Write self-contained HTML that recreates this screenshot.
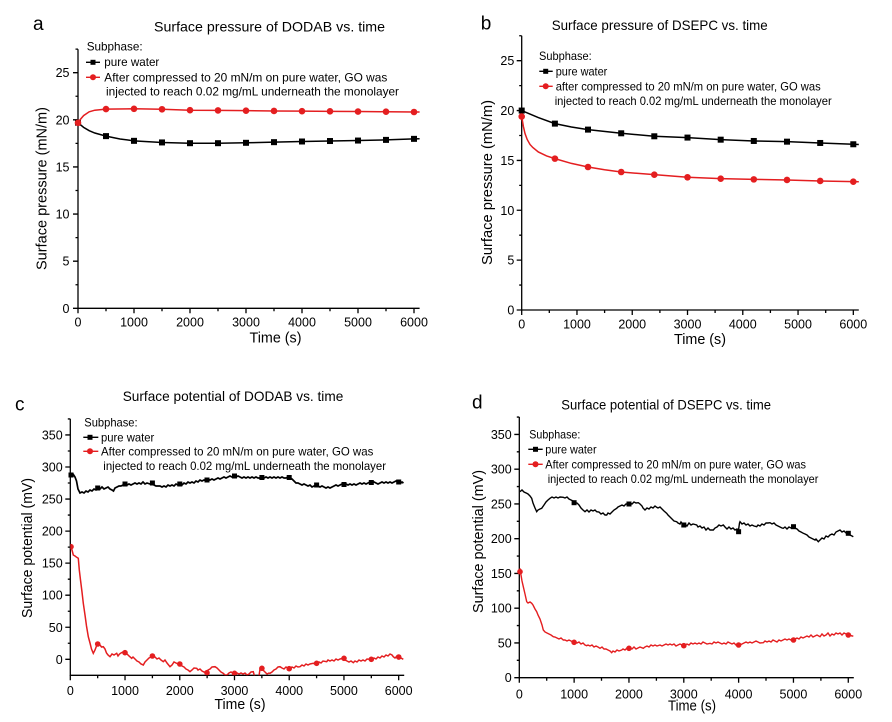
<!DOCTYPE html>
<html><head><meta charset="utf-8"><style>
html,body{margin:0;padding:0;background:#fff;}
svg{display:block;}
text{font-family:"Liberation Sans",Arial,sans-serif;fill:#000;}
.tk{font-size:12.5px;}
.ax{font-size:14.5px;}
.tt{font-size:14px;}
.lg{font-size:12px;}
.pl{font-size:19px;}
</style></head><body>
<svg width="892" height="722" viewBox="0 0 892 722" xmlns="http://www.w3.org/2000/svg">
<defs>
<clipPath id="cc"><rect x="70.3" y="410" width="340" height="265.3"/></clipPath>
</defs>

<!-- ============ PANEL A ============ -->
<text class="pl" x="33" y="30">a</text>
<text class="tt" x="154" y="31.5" textLength="231" lengthAdjust="spacingAndGlyphs">Surface pressure of DODAB vs. time</text>
<g stroke="#000" stroke-width="1.3" fill="none">
<path d="M78 49.2V308.3H419.6"/>
<path d="M73 308.3H78M73 261.18H78M73 214.06H78M73 166.94H78M73 119.82H78M73 72.7H78"/>
<path d="M75.5 284.74H78M75.5 237.62H78M75.5 190.5H78M75.5 143.38H78M75.5 96.26H78M75.5 49.14H78"/>
<path d="M78 308.3V313.3M134 308.3V313.3M190 308.3V313.3M246 308.3V313.3M302 308.3V313.3M358 308.3V313.3M414 308.3V313.3"/>
<path d="M106 308.3V311.3M162 308.3V311.3M218 308.3V311.3M274 308.3V311.3M330 308.3V311.3M386 308.3V311.3"/>
</g>
<g class="tk" text-anchor="end">
<text x="69.5" y="312.8">0</text><text x="69.5" y="265.7">5</text><text x="69.5" y="218.6">10</text>
<text x="69.5" y="171.4">15</text><text x="69.5" y="124.3">20</text><text x="69.5" y="77.2">25</text>
</g>
<g class="tk" text-anchor="middle">
<text x="78" y="326.7">0</text><text x="134" y="326.7">1000</text><text x="190" y="326.7">2000</text>
<text x="246" y="326.7">3000</text><text x="302" y="326.7">4000</text><text x="358" y="326.7">5000</text>
<text x="414" y="326.7">6000</text>
</g>
<text class="ax" text-anchor="middle" x="275.5" y="342.5" textLength="52" lengthAdjust="spacingAndGlyphs">Time (s)</text>
<text class="ax" text-anchor="middle" transform="translate(46.5,188.5) rotate(-90)" textLength="163" lengthAdjust="spacingAndGlyphs">Surface pressure (mN/m)</text>
<!-- legend a -->
<text class="lg" x="86.7" y="50.5" textLength="56" lengthAdjust="spacingAndGlyphs">Subphase:</text>
<path d="M86 62.3H100" stroke="#000" stroke-width="1.4"/><rect x="90.5" y="59.8" width="5" height="5" fill="#000"/>
<text class="lg" x="104.3" y="66" textLength="55" lengthAdjust="spacingAndGlyphs">pure water</text>
<path d="M86 77.3H100" stroke="#e41e20" stroke-width="1.4"/><circle cx="93" cy="77.3" r="3" fill="#e41e20"/>
<text class="lg" x="104.3" y="81.5" textLength="283" lengthAdjust="spacingAndGlyphs">After compressed to 20 mN/m on pure water, GO was</text>
<text class="lg" x="106" y="95.5" textLength="293" lengthAdjust="spacingAndGlyphs">injected to reach 0.02 mg/mL underneath the monolayer</text>
<!-- data a -->
<path d="M78 122.65L83.6 127.36L89.2 130.66L94.8 133.01L106 136.12L120 138.95L134 140.84L162 142.44L190 143.19L218 143.19L246 142.81L274 142.16L302 141.5L330 141.02L358 140.55L386 139.89L414 138.86L419.6 138.7" stroke="#000" stroke-width="1.5" fill="none"/>
<g fill="#000">
<rect x="75" y="119.65" width="6" height="6"/><rect x="103" y="133.12" width="6" height="6"/><rect x="131" y="137.84" width="6" height="6"/>
<rect x="159" y="139.44" width="6" height="6"/><rect x="187" y="140.19" width="6" height="6"/><rect x="215" y="140.19" width="6" height="6"/>
<rect x="243" y="139.81" width="6" height="6"/><rect x="271" y="139.16" width="6" height="6"/><rect x="299" y="138.5" width="6" height="6"/>
<rect x="327" y="138.02" width="6" height="6"/><rect x="355" y="137.55" width="6" height="6"/><rect x="383" y="136.89" width="6" height="6"/>
<rect x="411" y="135.86" width="6" height="6"/>
</g>
<path d="M78 122.84L80.8 118.88L83.6 115.58L89.2 111.81L94.8 110.21L106 109.08L134 108.79L162 109.27L190 110.21L218 110.4L246 110.68L274 110.96L302 111.15L330 111.34L358 111.53L386 111.72L414 112L419.6 112.05" stroke="#e41e20" stroke-width="1.5" fill="none"/>
<g fill="#e41e20">
<circle cx="78" cy="122.84" r="3.3"/><circle cx="106" cy="109.08" r="3.3"/><circle cx="134" cy="108.79" r="3.3"/>
<circle cx="162" cy="109.27" r="3.3"/><circle cx="190" cy="110.21" r="3.3"/><circle cx="218" cy="110.4" r="3.3"/>
<circle cx="246" cy="110.68" r="3.3"/><circle cx="274" cy="110.96" r="3.3"/><circle cx="302" cy="111.15" r="3.3"/>
<circle cx="330" cy="111.34" r="3.3"/><circle cx="358" cy="111.53" r="3.3"/><circle cx="386" cy="111.72" r="3.3"/>
<circle cx="414" cy="112" r="3.3"/>
</g>

<!-- ============ PANEL B ============ -->
<text class="pl" x="480.7" y="29.3">b</text>
<text class="tt" x="551.7" y="30" textLength="216" lengthAdjust="spacingAndGlyphs">Surface pressure of DSEPC vs. time</text>
<g stroke="#000" stroke-width="1.3" fill="none">
<path d="M521.7 35.8V310H858.8"/>
<path d="M516.7 310H521.7M516.7 260.14H521.7M516.7 210.28H521.7M516.7 160.42H521.7M516.7 110.56H521.7M516.7 60.7H521.7"/>
<path d="M519.2 285.07H521.7M519.2 235.21H521.7M519.2 185.35H521.7M519.2 135.49H521.7M519.2 85.63H521.7M519.2 35.77H521.7"/>
<path d="M521.7 310V315M576.97 310V315M632.24 310V315M687.51 310V315M742.78 310V315M798.05 310V315M853.32 310V315"/>
<path d="M549.3 310V313M604.6 310V313M659.9 310V313M715.1 310V313M770.4 310V313M825.7 310V313"/>
</g>
<g class="tk" text-anchor="end">
<text x="514.3" y="314.5">0</text><text x="514.3" y="264.6">5</text><text x="514.3" y="214.8">10</text>
<text x="514.3" y="164.9">15</text><text x="514.3" y="115.1">20</text><text x="514.3" y="65.2">25</text>
</g>
<g class="tk" text-anchor="middle">
<text x="521.7" y="328.5">0</text><text x="576.97" y="328.5">1000</text><text x="632.24" y="328.5">2000</text>
<text x="687.51" y="328.5">3000</text><text x="742.78" y="328.5">4000</text><text x="798.05" y="328.5">5000</text>
<text x="853.32" y="328.5">6000</text>
</g>
<text class="ax" text-anchor="middle" x="700" y="344" textLength="52" lengthAdjust="spacingAndGlyphs">Time (s)</text>
<text class="ax" text-anchor="middle" transform="translate(492,182.5) rotate(-90)" textLength="165" lengthAdjust="spacingAndGlyphs">Surface pressure (mN/m)</text>
<!-- legend b -->
<text class="lg" x="539" y="60" textLength="52.7" lengthAdjust="spacingAndGlyphs">Subphase:</text>
<path d="M539.3 71.3H552.7" stroke="#000" stroke-width="1.4"/><rect x="543.2" y="68.8" width="5" height="5" fill="#000"/>
<text class="lg" x="555.7" y="75.5" textLength="51.6" lengthAdjust="spacingAndGlyphs">pure water</text>
<path d="M539.3 86.3H552.7" stroke="#e41e20" stroke-width="1.4"/><circle cx="545.7" cy="86.3" r="3" fill="#e41e20"/>
<text class="lg" x="555.7" y="90.5" textLength="265" lengthAdjust="spacingAndGlyphs">after compressed to 20 mN/m on pure water, GO was</text>
<text class="lg" x="554.7" y="105" textLength="277" lengthAdjust="spacingAndGlyphs">injected to reach 0.02 mg/mL underneath the monolayer</text>
<!-- data b -->
<path d="M521.7 110.56L538.3 117.54L554.9 123.62L571.4 127.01L588 129.61L621.2 133.3L654.3 136.29L687.5 137.58L720.7 139.68L753.8 140.97L787 141.67L820.2 142.97L853.3 144.27L858.8 144.47" stroke="#000" stroke-width="1.5" fill="none"/>
<g fill="#000">
<rect x="518.7" y="107.56" width="6" height="6"/><rect x="551.9" y="120.62" width="6" height="6"/><rect x="585" y="126.61" width="6" height="6"/>
<rect x="618.2" y="130.3" width="6" height="6"/><rect x="651.3" y="133.29" width="6" height="6"/><rect x="684.5" y="134.58" width="6" height="6"/>
<rect x="717.7" y="136.68" width="6" height="6"/><rect x="750.8" y="137.97" width="6" height="6"/><rect x="784" y="138.67" width="6" height="6"/>
<rect x="817.2" y="139.97" width="6" height="6"/><rect x="850.3" y="141.27" width="6" height="6"/>
</g>
<path d="M521.7 116.54L523.4 126.52L525 133.5L527.2 139.48L530 144.46L532.8 147.46L538.3 151.94L546.6 155.93L554.9 158.63L571.4 163.41L588 167L604.6 169.79L621.2 171.99L654.3 174.68L687.5 177.27L720.7 178.67L753.8 179.37L787 179.96L820.2 180.96L853.3 181.66L858.8 181.8" stroke="#e41e20" stroke-width="1.5" fill="none"/>
<g fill="#e41e20">
<circle cx="521.7" cy="116.54" r="3.3"/><circle cx="554.9" cy="158.63" r="3.3"/><circle cx="588" cy="167" r="3.3"/>
<circle cx="621.2" cy="171.99" r="3.3"/><circle cx="654.3" cy="174.68" r="3.3"/><circle cx="687.5" cy="177.27" r="3.3"/>
<circle cx="720.7" cy="178.67" r="3.3"/><circle cx="753.8" cy="179.37" r="3.3"/><circle cx="787" cy="179.96" r="3.3"/>
<circle cx="820.2" cy="180.96" r="3.3"/><circle cx="853.3" cy="181.66" r="3.3"/>
</g>

<!-- ============ PANEL C ============ -->
<text class="pl" x="15" y="410.7">c</text>
<text class="tt" x="122.7" y="401" textLength="220.6" lengthAdjust="spacingAndGlyphs">Surface potential of DODAB vs. time</text>
<g stroke="#000" stroke-width="1.3" fill="none">
<path d="M70.3 418.9V675.3H404.2"/>
<path d="M65.3 659.3H70.3M65.3 627.25H70.3M65.3 595.2H70.3M65.3 563.15H70.3M65.3 531.1H70.3M65.3 499.05H70.3M65.3 467H70.3M65.3 434.95H70.3"/>
<path d="M67.8 643.28H70.3M67.8 611.23H70.3M67.8 579.18H70.3M67.8 547.13H70.3M67.8 515.08H70.3M67.8 483.03H70.3M67.8 450.98H70.3M67.8 418.93H70.3"/>
<path d="M70.3 675.3V680.3M125.03 675.3V680.3M179.76 675.3V680.3M234.49 675.3V680.3M289.22 675.3V680.3M343.95 675.3V680.3M398.68 675.3V680.3"/>
<path d="M97.67 675.3V678.3M152.4 675.3V678.3M207.13 675.3V678.3M261.86 675.3V678.3M316.59 675.3V678.3M371.32 675.3V678.3"/>
</g>
<g class="tk" text-anchor="end">
<text x="62.7" y="663.8">0</text><text x="62.7" y="631.75">50</text><text x="62.7" y="599.7">100</text>
<text x="62.7" y="567.65">150</text><text x="62.7" y="535.6">200</text><text x="62.7" y="503.55">250</text>
<text x="62.7" y="471.5">300</text><text x="62.7" y="439.45">350</text>
</g>
<g class="tk" text-anchor="middle">
<text x="70.3" y="695">0</text><text x="125.03" y="695">1000</text><text x="179.76" y="695">2000</text>
<text x="234.49" y="695">3000</text><text x="289.22" y="695">4000</text><text x="343.95" y="695">5000</text>
<text x="398.68" y="695">6000</text>
</g>
<text class="ax" text-anchor="middle" x="240" y="709" textLength="51" lengthAdjust="spacingAndGlyphs">Time (s)</text>
<text class="ax" text-anchor="middle" transform="translate(32,548) rotate(-90)" textLength="140" lengthAdjust="spacingAndGlyphs">Surface potential (mV)</text>
<!-- legend c -->
<text class="lg" x="84.3" y="426.5" textLength="53.3" lengthAdjust="spacingAndGlyphs">Subphase:</text>
<path d="M83.3 437.3H98.3" stroke="#000" stroke-width="1.4"/><rect x="87.5" y="434.8" width="5" height="5" fill="#000"/>
<text class="lg" x="101" y="441.5" textLength="53.3" lengthAdjust="spacingAndGlyphs">pure water</text>
<path d="M83.3 451.3H98.3" stroke="#e41e20" stroke-width="1.4"/><circle cx="90" cy="451.3" r="3" fill="#e41e20"/>
<text class="lg" x="101" y="455.5" textLength="272.3" lengthAdjust="spacingAndGlyphs">After compressed to 20 mN/m on pure water, GO was</text>
<text class="lg" x="103.3" y="470" textLength="282.7" lengthAdjust="spacingAndGlyphs">injected to reach 0.02 mg/mL underneath the monolayer</text>
<!-- data c -->
<polyline fill="none" stroke="#000" stroke-width="1.7" points="71,475 73,474 75,477 76.5,481 78,489 80,493 82,492 84,493 86,491 88,492 90,490 92,491 94,489 96,490 98,488 100,489 102,487 104,489 106,488 108,487 110,489 112,490 113.5,491 115,488 117,487 119,486 121,486 123,485 125,484 127,485 129,484 131,485 133,484 135,483 137,484 139,483 141,484 143,482 145,484 147,483 150,484 152,483 154,485 156,486 158,486 160,486 162,487 164,486 166,487 168,485 170,486 172,485 174,486 176,484 178,485 180,484 182,485 184,483 186,484 188,482 190,483 192,482 194,483 196,481 198,482 200,480 202,481 204,480 206,481 208,479 210,480 212,479 214,480 216,479 218,478 220,479 222,478 224,477 226,478 228,477 230,476 232,477 234,476 236,477 238,476 240,477 242,478 244,477 246,478 248,477 250,478 252,477 254,478 256,477 258,478 260,478 262,477 264,478 266,477 268,478 270,477 272,478 274,477 276,478 278,477 280,478 282,477 284,478 286,478 288,477 290,478 292,479 294,481 296,483 298,483 300,484 302,485 304,484 306,485 308,486 310,485 312,487 314,486 316,485 318,486 320,487 322,486 324,487 326,488 328,487 330,488 332,487 334,486 336,485 338,486 340,485 342,484 344,485 346,484 348,485 350,484 352,485 354,484 356,485 358,484 360,483 362,484 364,483 366,484 368,483 370,482 372,483 374,482 376,483 378,484 380,483 382,482 384,483 386,482 388,483 390,482 392,483 394,482 396,481 398,482 400,483 402,482 403.5,483"/>
<g fill="#000">
<rect x="68.5" y="472.5" width="5" height="5"/><rect x="95.2" y="485.5" width="5" height="5"/><rect x="122.5" y="481.5" width="5" height="5"/>
<rect x="149.9" y="480.5" width="5" height="5"/><rect x="177.3" y="481.5" width="5" height="5"/><rect x="204.5" y="477.5" width="5" height="5"/>
<rect x="232" y="473.5" width="5" height="5"/><rect x="259.4" y="475" width="5" height="5"/><rect x="286.7" y="475" width="5" height="5"/>
<rect x="314.1" y="482.5" width="5" height="5"/><rect x="341.5" y="482" width="5" height="5"/><rect x="368.8" y="480" width="5" height="5"/>
<rect x="396.2" y="479.5" width="5" height="5"/>
</g>
<g clip-path="url(#cc)">
<polyline fill="none" stroke="#e41e20" stroke-width="1.5" points="71,546.7 72,550 73.3,555 75,556 76.7,557.3 78.3,558.3 79.3,570 80.5,580 82,592 83.3,603.3 85,615 86.5,626 88.3,636.7 90,643 91.5,649 93.3,653.3 95,650 96.5,646 98.3,644 100,645 101.5,647 103.3,646.7 105,649 106.5,653 108,655 110,656.7 112,654 114,655 116.7,653.3 118,656 119.5,654 121,653 123,652 125,652.7 127,654 129,656 131.7,658.3 133,657 135,659 137,661 139,662 141,664 143.3,665 145,662 147,660 149,658 151,657 153.3,656 155,657 157,659 159,658 161,660 163.3,661.7 165,660 167,663 170,666.7 172,665 174,662 176,663 178,664 180,664 182,666 184,667 186,669 188,670 190,671.7 192,670 194,668 196.7,668.3 198,670 200,669 202,671 204,672 206.7,672.7 208,670 210,669 212,667 215,666.7 217,668 219,670 221,672 223.3,673.3 225,675 227,675 229,673 231,672 233.3,673.3 235,674 237,673 239,674 241,673 243,674 245,673 247,675 249,674 251,672 253.3,671.7 255,678 257,680 259,676 260,669 261.7,668.3 263,670 265,672 267,674 269,673 270,673.3 272,672 274,670 276,669 278,667 280,666.7 282,668 284,669 286,667 288,668 290,668.7 292,667 294,668 296,666 298,667 300,666.7 302,665 304,666 306,664 308,665 310,664 313.3,663.3 315,664 317,663 319,662 321,663 323,661 326.7,661.7 328,660 330,661 332,660 334,661 336,659 338,660 340,659 343.3,658.3 345,660 347,661 349,662 351,661 353.3,662.7 355,661 357,662 359,660 361,661 363,660 365,661 367,659 370,659.3 372,660 374,658 376,659 378,657 380,658 382,656 384,657 386,655 388,656 390,654 392,655 393.3,656.7 395,658 397,656 399,659 401,658 403.3,659.3"/>
<g fill="#e41e20">
<circle cx="71" cy="546.7" r="2.8"/><circle cx="97.7" cy="644" r="2.8"/><circle cx="125" cy="652.7" r="2.8"/>
<circle cx="152.4" cy="656" r="2.8"/><circle cx="179.8" cy="664" r="2.8"/><circle cx="207" cy="672.7" r="2.8"/>
<circle cx="234.5" cy="673.3" r="2.8"/><circle cx="261.9" cy="668.3" r="2.8"/><circle cx="289.2" cy="668.7" r="2.8"/>
<circle cx="316.6" cy="663.3" r="2.8"/><circle cx="344" cy="658.3" r="2.8"/><circle cx="371.3" cy="659.3" r="2.8"/>
<circle cx="398.7" cy="657" r="2.8"/>
</g>
</g>

<!-- ============ PANEL D ============ -->
<text class="pl" x="472" y="408.3">d</text>
<text class="tt" x="561.3" y="409.3" textLength="209.7" lengthAdjust="spacingAndGlyphs">Surface potential of DSEPC vs. time</text>
<g stroke="#000" stroke-width="1.3" fill="none">
<path d="M519.3 417V677.7H853.8"/>
<path d="M514.3 677.7H519.3M514.3 642.95H519.3M514.3 608.19H519.3M514.3 573.44H519.3M514.3 538.68H519.3M514.3 503.93H519.3M514.3 469.17H519.3M514.3 434.42H519.3"/>
<path d="M516.8 660.32H519.3M516.8 625.57H519.3M516.8 590.81H519.3M516.8 556.06H519.3M516.8 521.3H519.3M516.8 486.55H519.3M516.8 451.79H519.3M516.8 417.04H519.3"/>
<path d="M519.3 677.7V682.7M574.13 677.7V682.7M628.96 677.7V682.7M683.79 677.7V682.7M738.62 677.7V682.7M793.45 677.7V682.7M848.28 677.7V682.7"/>
<path d="M546.7 677.7V680.7M601.5 677.7V680.7M656.4 677.7V680.7M711.2 677.7V680.7M766 677.7V680.7M820.9 677.7V680.7"/>
</g>
<g class="tk" text-anchor="end">
<text x="511.7" y="682.2">0</text><text x="511.7" y="647.45">50</text><text x="511.7" y="612.7">100</text>
<text x="511.7" y="577.94">150</text><text x="511.7" y="543.18">200</text><text x="511.7" y="508.43">250</text>
<text x="511.7" y="473.67">300</text><text x="511.7" y="438.92">350</text>
</g>
<g class="tk" text-anchor="middle">
<text x="519.3" y="698.3">0</text><text x="574.13" y="698.3">1000</text><text x="628.96" y="698.3">2000</text>
<text x="683.79" y="698.3">3000</text><text x="738.62" y="698.3">4000</text><text x="793.45" y="698.3">5000</text>
<text x="848.28" y="698.3">6000</text>
</g>
<text class="ax" text-anchor="middle" x="692" y="710.5" textLength="48" lengthAdjust="spacingAndGlyphs">Time (s)</text>
<text class="ax" text-anchor="middle" transform="translate(483,541.5) rotate(-90)" textLength="143" lengthAdjust="spacingAndGlyphs">Surface potential (mV)</text>
<!-- legend d -->
<text class="lg" x="529.3" y="438.5" textLength="51" lengthAdjust="spacingAndGlyphs">Subphase:</text>
<path d="M528.3 449.3H542.7" stroke="#000" stroke-width="1.4"/><rect x="533" y="446.8" width="5" height="5" fill="#000"/>
<text class="lg" x="545.3" y="453.5" textLength="51.3" lengthAdjust="spacingAndGlyphs">pure water</text>
<path d="M528.3 464.3H542.7" stroke="#e41e20" stroke-width="1.4"/><circle cx="535.5" cy="464.3" r="3" fill="#e41e20"/>
<text class="lg" x="545.3" y="468.5" textLength="260.7" lengthAdjust="spacingAndGlyphs">After compressed to 20 mN/m on pure water, GO was</text>
<text class="lg" x="547.7" y="483" textLength="270.7" lengthAdjust="spacingAndGlyphs">injected to reach 0.02 mg/mL underneath the monolayer</text>
<!-- data d -->
<polyline fill="none" stroke="#000" stroke-width="1.4" points="520,491.7 522,490 524,492 526.7,493.3 528,494 530,496 531.7,498.3 533,503 535,508 536.7,511.7 538,510 540,509 541.7,508.3 544,505 546,502 548,500 550,498.3 552,497 554,498 556,497 558,498 560,497 563.3,497.3 565,498 567,497 569,499 571,500 573,501 575,502.7 577,503 579,505 581,508 583,510 585,511.7 587,510 589,512 591,510 593,511 595,510 596.7,511.7 599,512 601,514 603,513 605,515 606.7,515 608,513 610,514 612,512 614,510 616.7,508.3 618,507 620,506 622,505 624,506 626,504 628.3,504 630,503 632,504 634,502 636,503 638.3,502.7 640,504 642,506 643,508 645,510 647,508 649,509 651,507 653,508 655,506 656.7,507.3 658,508 660,507 662,509 664,511 666.7,513.3 668,515 670,517 672,519 674,521 676.7,521.7 678,523 680,524 681,522 683.3,525 685,524 687,526 689,523 691,525 693,524 696.7,525 698,527 700,526 702,528 704,527 706,530 708,528 710,530 713.3,530 715,528 717,527 719,525 721,526 723.3,525 725,527 727,529 729,527 731,529 733,528 735,530 737,529 738.3,531.7 739.5,523 740,521.7 742,524 744,523 746,525 748,524 750,526 752,525 754,526 756.7,526.7 758,525 760,526 762,524 764,525 766,523 768,523 770,522.7 772,524 774,523 776,525 778,526 780,527 782,528 783.3,528.3 785,527 787,529 789,527 791,528 793.3,526.7 795,528 797,529 799,531 801,532 803.3,533.3 805,534 807,535 809,537 811,538 813,539 815,540 816,539 818.3,541.7 820,540 822,538 824,539 826,536 828,537 830,535 832,534 834,535 836,532 838,531 840,530 842,532 844,531 846,533 848.3,533.3 850,535 852,536 853.3,536.7"/>
<g fill="#000">
<rect x="571.6" y="500.2" width="5" height="5"/><rect x="626.5" y="501.5" width="5" height="5"/><rect x="681.3" y="522.5" width="5" height="5"/>
<rect x="736.1" y="529.2" width="5" height="5"/><rect x="791" y="524.2" width="5" height="5"/><rect x="845.8" y="530.8" width="5" height="5"/>
</g>
<polyline fill="none" stroke="#e41e20" stroke-width="1.4" points="520,568.3 521,575 522,581 523.3,586.7 525,594 526.7,601.7 528,603 530,602 531.7,603.3 533,605 535,609 536.7,611.7 538,615 540,619 542,625 543.3,630 545,632 547,633 549,634 551,635 553.3,636.7 555,637 557,638 559,639 561,638 563.3,640 565,640 567,641 569,640 571,641 573,642 575,642.3 577,643 579,642 581,644 583,643 585,645 586.7,645.7 588,645 590,646 592,645 594,647 596,646 598,647 600,648.3 602,647 604,649 606,649 608,650 610,651 611.7,652.7 613,651 615,652 617,650 619,651 621.7,650 623,649 625,650 627,648 630,648.3 632,649 634,647 636,649 638,648 640,647 643.3,648.3 645,647 647,646 649,647 651,645 653,646 655,645 657,646 660,645 662,646 664,645 666,644 668,645 670,644 672,645 674,644 676,646 678,645 680,644 683.3,645.7 685,645 687,644 689,645 691,643 693,644 695,643 697,644 699,643 701,644 703,642 705,643 707,644 710,643.3 712,644 714,642 716,643 718,642 720,643 722,644 724,643 726,644 728,642 730,643 732,644 734,643 736,645 738,644 740,645 742,644 744,643 746,642 748,643 750,642 752,643 754,642 756,641 758,642 760,643 763.3,642.7 765,641 767,642 769,641 771,642 773,640 775,641 777,642 779,640 781,641 783,640 785,639 787,640 789,639 791,640 793.3,640 795,639 797,638 799,639 801,637 803,638 805,637 807,636 809,637 811,635 813,637 815,636 817,635 820,636.7 822,634 824,636 826,635 828,633 830,636 832,634 834,635 836,633 838,634 840,633 842,635 844,633 846,634 848,635 850,635 852,636 853.3,636"/>
<g fill="#e41e20">
<circle cx="520" cy="571.7" r="2.8"/><circle cx="574.1" cy="642.3" r="2.8"/><circle cx="629" cy="648.3" r="2.8"/>
<circle cx="683.8" cy="645.7" r="2.8"/><circle cx="738.6" cy="645" r="2.8"/><circle cx="793.5" cy="640" r="2.8"/>
<circle cx="848.3" cy="635" r="2.8"/>
</g>
</svg>
</body></html>
